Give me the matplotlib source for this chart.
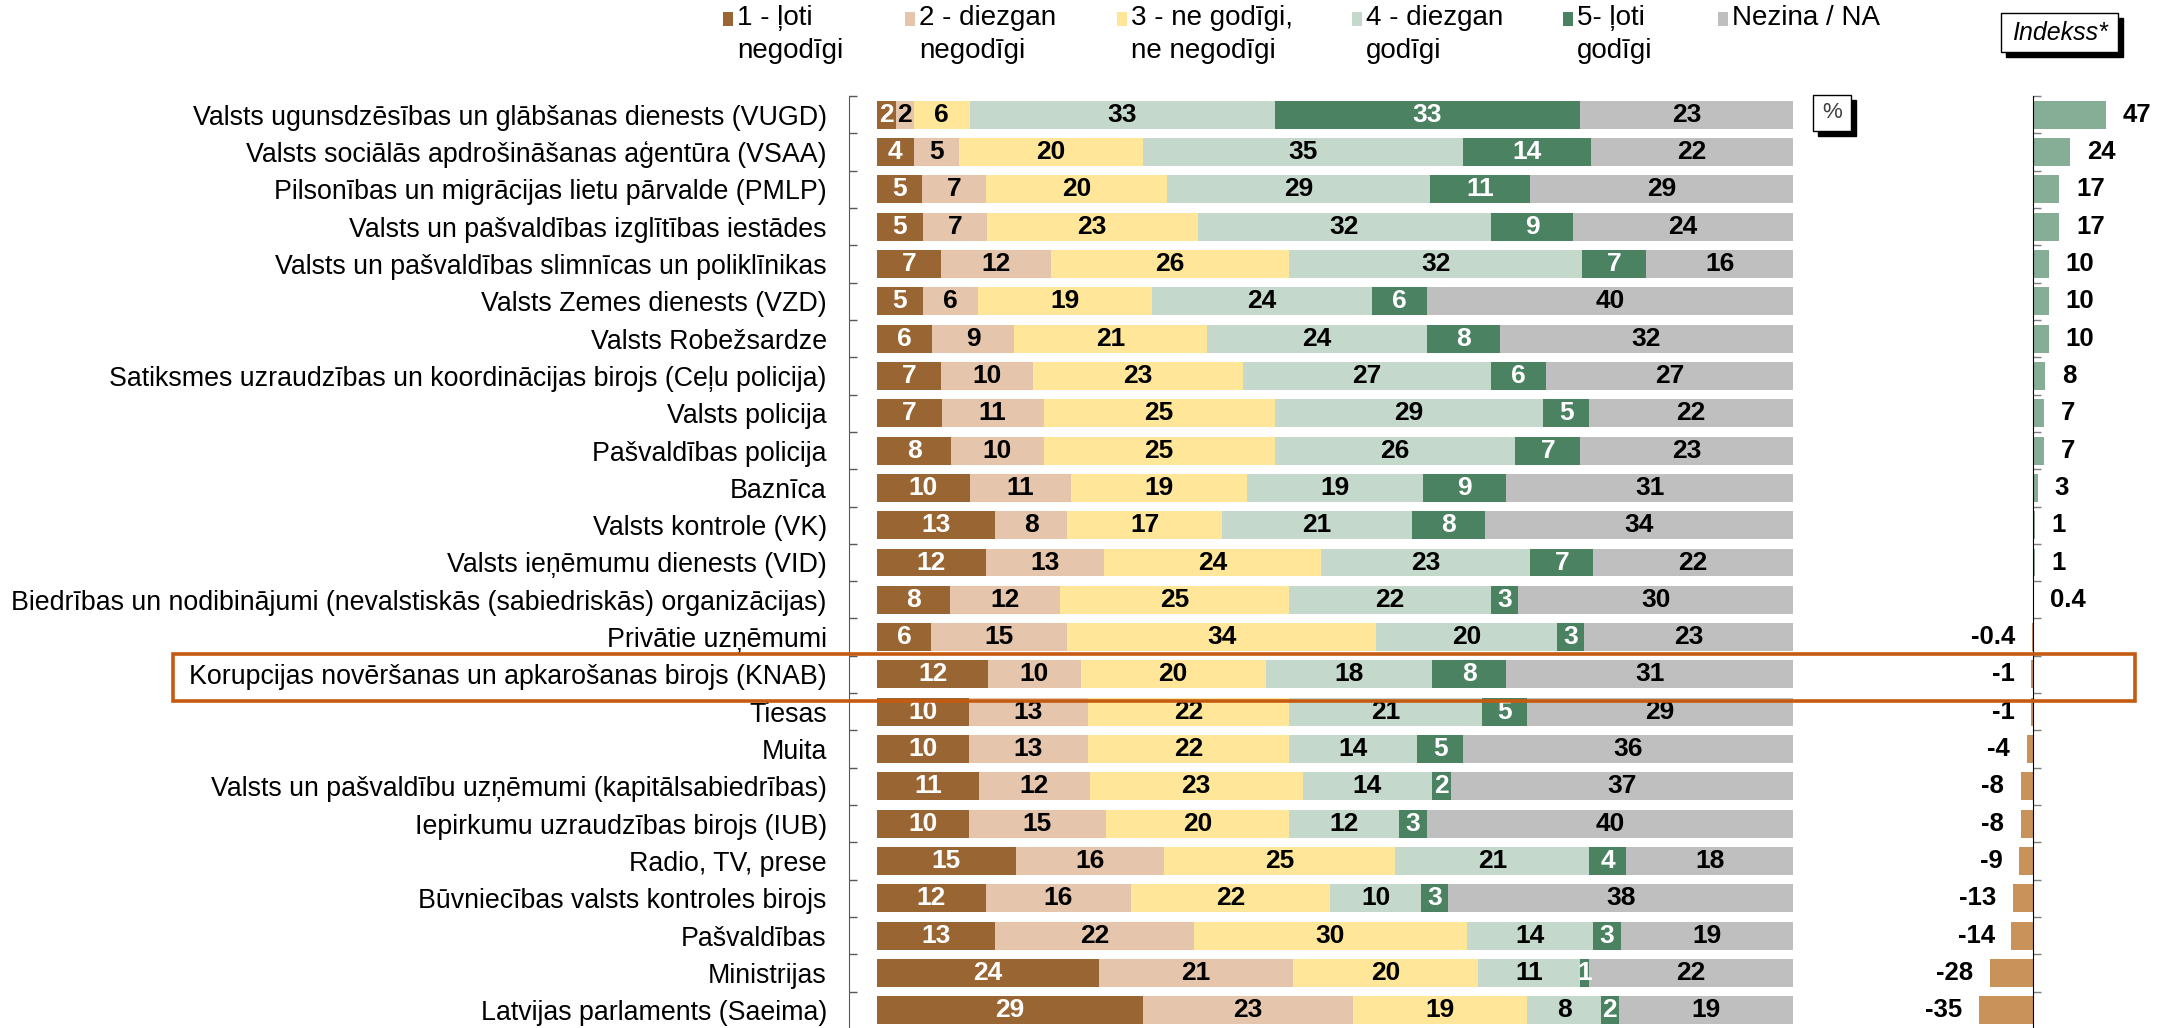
import numpy as np
import matplotlib
matplotlib.use('Agg')
from matplotlib import pyplot as plt
from matplotlib.patches import Rectangle

plt.rcParams['font.family'] = ['Liberation Sans', 'DejaVu Sans']

# --- data ---
categories = [
    'Valsts ugunsdzēsības un glābšanas dienests (VUGD)',
    'Valsts sociālās apdrošināšanas aģentūra (VSAA)',
    'Pilsonības un migrācijas lietu pārvalde (PMLP)',
    'Valsts un pašvaldības izglītības iestādes',
    'Valsts un pašvaldības slimnīcas un poliklīnikas',
    'Valsts Zemes dienests (VZD)',
    'Valsts Robežsardze',
    'Satiksmes uzraudzības un koordinācijas birojs (Ceļu policija)',
    'Valsts policija',
    'Pašvaldības policija',
    'Baznīca',
    'Valsts kontrole (VK)',
    'Valsts ieņēmumu dienests (VID)',
    'Biedrības un nodibinājumi (nevalstiskās (sabiedriskās) organizācijas)',
    'Privātie uzņēmumi',
    'Korupcijas novēršanas un apkarošanas birojs (KNAB)',
    'Tiesas',
    'Muita',
    'Valsts un pašvaldību uzņēmumi (kapitālsabiedrības)',
    'Iepirkumu uzraudzības birojs (IUB)',
    'Radio, TV, prese',
    'Būvniecības valsts kontroles birojs',
    'Pašvaldības',
    'Ministrijas',
    'Latvijas parlaments (Saeima)',
]
very_dishonest = [2, 4, 5, 5, 7, 5, 6, 7, 7, 8, 10, 13, 12, 8, 6, 12, 10, 10, 11, 10, 15, 12, 13, 24, 29]
rather_dishonest = [2, 5, 7, 7, 12, 6, 9, 10, 11, 10, 11, 8, 13, 12, 15, 10, 13, 13, 12, 15, 16, 16, 22, 21, 23]
neither = [6, 20, 20, 23, 26, 19, 21, 23, 25, 25, 19, 17, 24, 25, 34, 20, 22, 22, 23, 20, 25, 22, 30, 20, 19]
rather_honest = [33, 35, 29, 32, 32, 24, 24, 27, 29, 26, 19, 21, 23, 22, 20, 18, 21, 14, 14, 12, 21, 10, 14, 11, 8]
very_honest = [33, 14, 11, 9, 7, 6, 8, 6, 5, 7, 9, 8, 7, 3, 3, 8, 5, 5, 2, 3, 4, 3, 3, 1, 2]
dont_know = [23, 22, 29, 24, 16, 40, 32, 27, 22, 23, 31, 34, 22, 30, 23, 31, 29, 36, 37, 40, 18, 38, 19, 22, 19]
index_vals = [47, 24, 17, 17, 10, 10, 10, 8, 7, 7, 3, 1, 1, 0.4, -0.4, -1, -1, -4, -8, -8, -9, -13, -14, -28, -35]
legend_labels = ['1 - ļoti\nnegodīgi', '2 - diezgan\nnegodīgi', '3 - ne godīgi,\nne negodīgi',
                 '4 - diezgan\ngodīgi', '5- ļoti\ngodīgi', 'Nezina / NA']

seg_colors = ['#996633', '#E5C6AC', '#FFE699', '#C4D8CC', '#4A8262', '#BFBFBF']
txt_colors = ['white', 'black', 'black', 'black', 'white', 'black']
pos_color = '#86AD95'
neg_color = '#C8925A'
hl_color = '#C55A11'

W, H = 2169, 1028
fig = plt.figure(figsize=(W / 100, H / 100), dpi=100)

def fx(px):
    return px / W

def fy(py):
    return 1 - py / H

n = len(categories)
y = np.arange(n)
top_px, bot_px = 96, 1029

# stacked bars
ax = fig.add_axes([fx(849), fy(bot_px), (1793 - 849) / W, (bot_px - top_px) / H])
series = np.array([very_dishonest, rather_dishonest, neither, rather_honest, very_honest, dont_know], dtype=float)
shares = series / series.sum(axis=0) * 100
left = np.zeros(n)
for k in range(len(series)):
    ax.barh(y, shares[k], left=left, height=0.75, color=seg_colors[k], edgecolor='none')
    for i in range(n):
        ax.text(left[i] + shares[k][i] / 2, y[i], '%d' % series[k][i], ha='center', va='center',
                fontsize=19, fontweight='bold', color=txt_colors[k])
    left += shares[k]

ax.set_xlim(-3.06, 100)
ax.set_ylim(n - 0.5, -0.5)
ax.set_xticks([])
ax.set_yticks(y)
ax.set_yticklabels(categories, fontsize=19.3)
ax.set_yticks(np.arange(n + 1) - 0.5, minor=True)
ax.tick_params(axis='y', which='major', length=0, pad=16)
ax.tick_params(axis='y', which='minor', direction='in', length=6, color='#595959', width=1)
for s in ['top', 'right', 'bottom']:
    ax.spines[s].set_visible(False)
ax.spines['left'].set_color('#595959')

# index bars
ax2 = fig.add_axes([fx(1900), fy(bot_px), 269 / W, (bot_px - top_px) / H])
idx = np.array(index_vals)
ax2.barh(y, idx, height=0.75, color=[pos_color if v >= 0 else neg_color for v in idx], edgecolor='none')
for i, v in enumerate(idx):
    lab = ('%g' % v)
    if v >= 0:
        ax2.annotate(lab, (v, y[i]), xytext=(12, 0), textcoords='offset points',
                     ha='left', va='center', fontsize=18.5, fontweight='bold')
    else:
        ax2.annotate(lab, (v, y[i]), xytext=(-12, 0), textcoords='offset points',
                     ha='right', va='center', fontsize=18.5, fontweight='bold')
ax2.set_xlim(-85.8, 87.7)
ax2.set_ylim(n - 0.5, -0.5)
ax2.set_xticks([])
ax2.set_yticks(np.arange(n + 1) - 0.5)
ax2.set_yticklabels([])
ax2.tick_params(axis='y', direction='in', length=6, color='#7F7F7F', width=1)
for s in ['top', 'right', 'bottom']:
    ax2.spines[s].set_visible(False)
ax2.spines['left'].set_position(('data', 0))
ax2.spines['left'].set_color('black')

# legend
sq_x = [728, 910, 1122, 1357, 1568, 1723]
for k, lab in enumerate(legend_labels):
    fig.add_artist(Rectangle((fx(sq_x[k] - 5), fy(26)), 10 / W, 14 / H, transform=fig.transFigure,
                             facecolor=seg_colors[k], edgecolor='none'))
    lines = lab.split('\n')
    for j, line in enumerate(lines):
        fig.text(fx(sq_x[k] + 9), fy(18 + 33 * j), line, ha='left', va='center', fontsize=20)

# boxes with shadow
def shadow_box(x0, y0, x1, y1, off=5):
    fig.add_artist(Rectangle((fx(x0 + off), fy(y1 + off)), (x1 - x0) / W, (y1 - y0) / H,
                             transform=fig.transFigure, facecolor='black', edgecolor='black'))
    fig.add_artist(Rectangle((fx(x0), fy(y1)), (x1 - x0) / W, (y1 - y0) / H,
                             transform=fig.transFigure, facecolor='white', edgecolor='black', lw=1))

shadow_box(2001, 13, 2118, 52)
fig.text(fx(2060), fy(33), 'Indekss*', ha='center', va='center', fontsize=18, style='italic')
shadow_box(1813, 95, 1851, 131)
fig.text(fx(1832), fy(113), '%', ha='center', va='center', fontsize=16, color='#404040')

# highlight KNAB row
fig.add_artist(Rectangle((fx(173), fy(701)), (2135 - 173) / W, (701 - 654) / H, transform=fig.transFigure,
                         facecolor='none', edgecolor=hl_color, lw=2.6, zorder=10))

fig.savefig('out.png', dpi=100)
